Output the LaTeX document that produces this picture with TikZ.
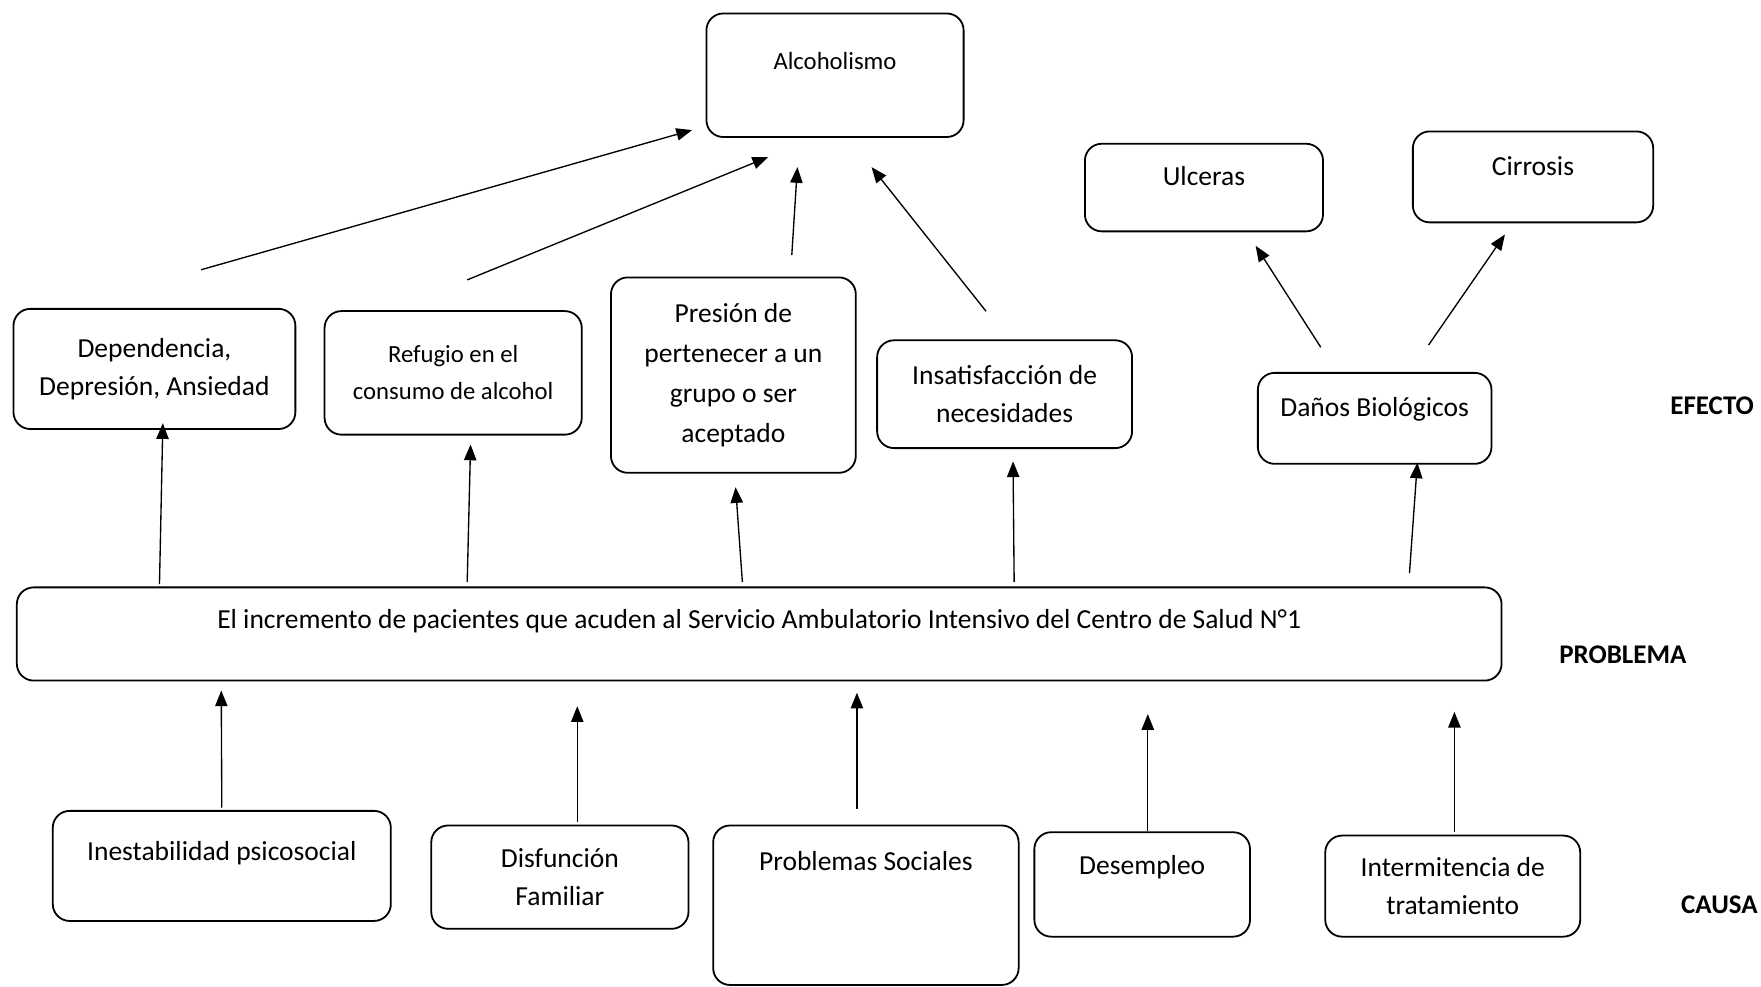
\documentclass[tikz,border=0pt]{standalone}
\usepackage{fontspec}
\setmainfont{Carlito}
\usetikzlibrary{arrows.meta}

\begin{document}
\begin{tikzpicture}[x=1pt, y=-1pt,
        font=\fontsize{24.5}{34}\selectfont,
        box/.style={draw, rounded corners=15pt, line width=1.6pt, align=center, inner sep=0pt},
        small/.style={font=\fontsize{22}{33}\selectfont},
        tag/.style={font=\fontsize{24}{34}\selectfont\bfseries},
        >={Triangle[length=14pt, width=11pt]}]
        \useasboundingbox (0,0) rectangle (1568,878);

        \node (alc) [box, small, minimum width=229pt, text height=50pt, text depth=60pt] at (743.5,67) {Alcoholismo};
        \node (ulc) [box, minimum width=212pt, text height=37pt, text depth=41pt] at (1072,167) {Ulceras};
        \node (cir) [box, minimum width=214pt, text height=39pt, text depth=42pt] at (1365,157.5) {Cirrosis};

        \node (dep) [box, minimum width=251pt, minimum height=107pt] at (137.5,328.5) {Dependencia,\\Depresión, Ansiedad};
        \node (ref) [box, small, minimum width=229pt, minimum height=110pt] at (403.5,332) {Refugio en el\\consumo de alcohol};
        \node (pre) [box, minimum width=218pt, minimum height=174pt, font=\fontsize{24.5}{35.5}\selectfont] at (653,334) {Presión de\\pertenecer a un\\grupo o ser\\aceptado};
        \node (ins) [box, minimum width=227pt, minimum height=96pt] at (894.5,351) {Insatisfacción de\\necesidades};
        \node (dan) [box, minimum width=208pt, text height=39pt, text depth=42pt] at (1224,372.5) {Daños Biológicos};
        \node (efecto) [tag] at (1524.5,361) {EFECTO};

        \node (prob) [box, minimum width=1322pt, text height=37pt, text depth=46pt] at (676,564.5) {El incremento de pacientes que acuden al Servicio Ambulatorio Intensivo del Centro de Salud N°1};
        \node (problema) [tag] at (1445,583) {PROBLEMA};

        \node (ine) [box, minimum width=301pt, text height=44pt, text depth=54pt] at (197.5,771) {Inestabilidad psicosocial};
        \node (dis) [box, minimum width=229pt, minimum height=92pt] at (498.5,781) {Disfunción\\Familiar};
        \node (soc) [box, minimum width=272pt, text height=40pt, text depth=102pt] at (771,806) {Problemas Sociales};
        \node (des) [box, minimum width=192pt, text height=38pt, text depth=55pt] at (1017,787.5) {Desempleo};
        \node (int) [box, minimum width=227pt, minimum height=90pt] at (1293.5,789) {Intermitencia de\\tratamiento};
        \node (causa) [tag] at (1531,806) {CAUSA};

        \path[->, line width=1.2pt]
            ([shift={(41.5,-34)}]dep.north) edge ([shift={(-12,-7)}]alc.south west)
            ([shift={(12.5,-27)}]ref.north) edge ([shift={(-59.5,17)}]alc.south)
            ([shift={(52,-19)}]pre.north) edge ([shift={(-33.5,26)}]alc.south)
            ([shift={(-16.5,-25)}]ins.north) edge ([shift={(32.5,26)}]alc.south)

            ([shift={(-48,-22)}]dan.north) edge ([shift={(46,12)}]ulc.south)
            ([shift={(48,-24)}]dan.north) edge ([shift={(-25,10)}]cir.south)

            ([shift={(-534,-2)}]prob.north) edge ([shift={(7.5,-6)}]dep.south)
            ([shift={(-260,-4)}]prob.north) edge ([shift={(15.5,8)}]ref.south)
            ([shift={(-15,-4)}]prob.north) edge ([shift={(2,12)}]pre.south)
            ([shift={(227,-4)}]prob.north) edge ([shift={(7.5,11)}]ins.south)
            ([shift={(579,-12)}]prob.north) edge ([shift={(38,-2)}]dan.south)

            ([shift={(0,-2)}]ine.north) edge ([shift={(-479,8)}]prob.south)
            ([shift={(15.5,-2)}]dis.north) edge ([shift={(-162,22)}]prob.south)
            ([shift={(-8,-14)}]soc.north) edge ([shift={(87,10)}]prob.south)
            ([shift={(5,0)}]des.north) edge ([shift={(346,29)}]prob.south)
            ([shift={(1.5,-2)}]int.north) edge ([shift={(619,27)}]prob.south)
        ;
    \end{tikzpicture}
\end{document}
